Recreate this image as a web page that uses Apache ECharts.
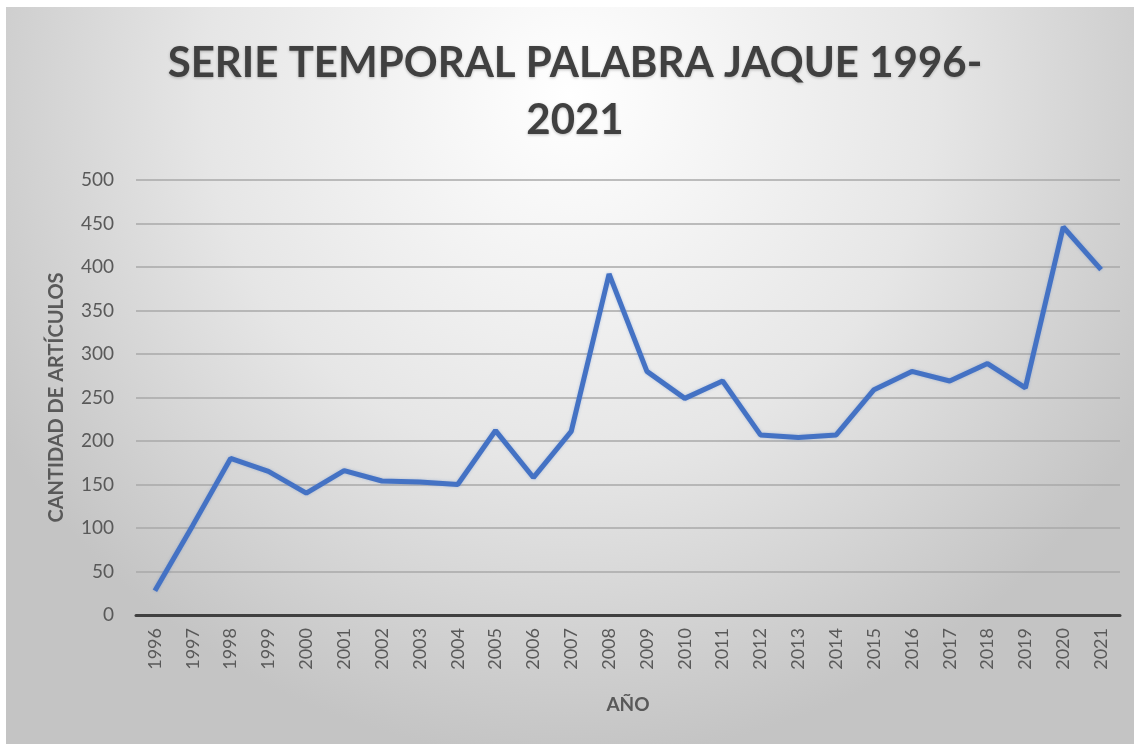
<!DOCTYPE html>
<html>
<head>
<meta charset="utf-8">
<title>Serie temporal palabra Jaque</title>
<script src="https://cdn.jsdelivr.net/npm/echarts@6/dist/echarts.min.js"></script>
<style>
  html, body { margin: 0; padding: 0; background: #fff; }
  .chart { position: absolute; left: 6px; top: 7px; width: 1128px; height: 737px; }
</style>
</head>
<body>
<div class="chart"></div>
<script>
// datos
var years = ['1996', '1997', '1998', '1999', '2000', '2001', '2002', '2003', '2004', '2005', '2006', '2007', '2008',
  '2009', '2010', '2011', '2012', '2013', '2014', '2015', '2016', '2017', '2018', '2019', '2020', '2021'];
var articulos = [28, 103, 180, 165, 140, 166, 154, 153, 150, 212, 158, 211, 392,
  280, 249, 269, 207, 204, 207, 259, 280, 269, 289, 261, 446, 397];
var yMin = 0, yMax = 500, yStep = 50;

(function () {
  var myChart = echarts.init(document.querySelector('.chart'));
  var option = {
    backgroundColor: {
      type: 'radial', x: 0.5, y: 0.12, r: 0.9,
      colorStops: [
        { offset: 0, color: '#ffffff' },
        { offset: 0.55, color: '#e6e6e6' },
        { offset: 1, color: '#c4c4c4' }
      ]
    },
    title: {
      text: 'SERIE TEMPORAL PALABRA JAQUE 1996-\n2021',
      left: 569,
      top: 28,
      padding: 0,
      textAlign: 'center',
      textStyle: {
        fontFamily: 'Lato',
        fontWeight: 'bold',
        fontSize: 42,
        lineHeight: 57,
        color: '#404040',
        textShadowColor: 'rgba(0,0,0,0.25)',
        textShadowBlur: 3,
        textShadowOffsetY: 1
      }
    },
    grid: {
      left: 130,
      right: 14,
      top: 173,
      bottom: 129
    },
    xAxis: {
      type: 'category',
      data: years,
      name: 'AÑO',
      nameLocation: 'middle',
      nameGap: 80,
      nameTextStyle: {
        fontFamily: 'Lato', fontWeight: 'bold', fontSize: 19, color: '#595959'
      },
      axisTick: { show: false },
      axisLine: { lineStyle: { color: '#404040', width: 3 } },
      axisLabel: {
        rotate: 90,
        margin: 13,
        fontFamily: 'Lato',
        fontSize: 18,
        color: '#595959'
      }
    },
    yAxis: {
      type: 'value',
      min: yMin,
      max: yMax,
      interval: yStep,
      name: 'CANTIDAD DE ARTÍCULOS',
      nameLocation: 'middle',
      nameGap: 69,
      nameTextStyle: {
        fontFamily: 'Lato', fontWeight: 'bold', fontSize: 20, color: '#595959'
      },
      axisLine: { show: false },
      axisTick: { show: false },
      axisLabel: {
        margin: 22,
        fontFamily: 'Lato',
        fontSize: 19,
        color: '#595959'
      },
      splitLine: {
        lineStyle: { color: '#a8a8a8', width: 1.5 }
      }
    },
    series: [
      {
        name: 'Artículos',
        type: 'line',
        data: articulos,
        symbol: 'none',
        lineStyle: {
          color: '#4472C4',
          width: 5,
          shadowColor: 'rgba(68,114,196,0.35)',
          shadowBlur: 3
        }
      }
    ]
  };
  myChart.setOption(option);
  window.addEventListener('resize', function () {
    myChart.resize();
  });
})();
</script>
</body>
</html>
